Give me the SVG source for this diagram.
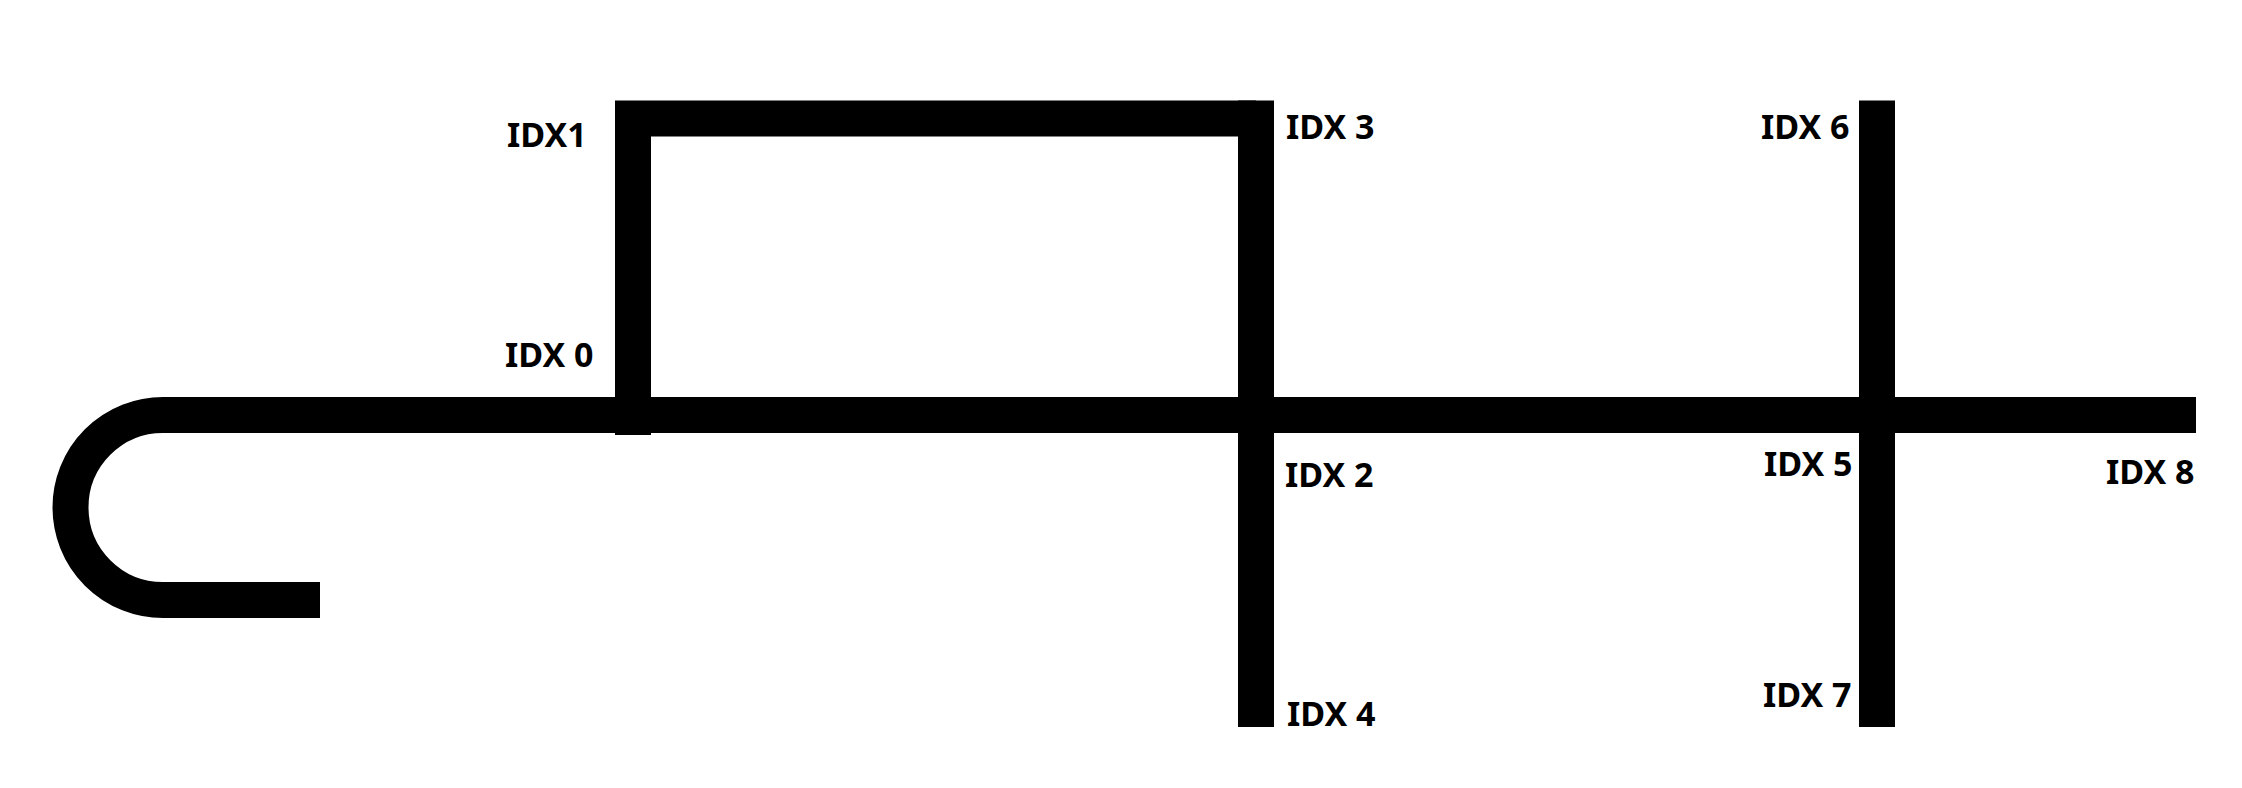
<svg xmlns="http://www.w3.org/2000/svg" width="2242" height="788" viewBox="0 0 2242 788">
<style>
.ln{fill:none;stroke:#000;stroke-width:36;stroke-linecap:butt;stroke-linejoin:miter}
.lb{font-family:"Noto Sans","Open Sans",sans-serif;font-weight:bold;font-size:34px;fill:#000}
</style>
<rect width="2242" height="788" fill="#fff"/>
<g id="connectors">
<path class="ln" d="M320 600 H163 A92.5 92.5 0 0 1 163 415 H2196"/>
<path class="ln" d="M633 435 V118.5 H1256"/>
<path class="ln" d="M1256 100.5 V727"/>
<path class="ln" d="M1877 100.5 V727"/>
</g>
<g id="idx0"><text class="lb" x="505" y="367">IDX 0</text></g>
<g id="idx1"><text class="lb" x="507" y="147">IDX1</text></g>
<g id="idx2"><text class="lb" x="1285" y="487">IDX 2</text></g>
<g id="idx3"><text class="lb" x="1286" y="139">IDX 3</text></g>
<g id="idx4"><text class="lb" x="1287" y="726">IDX 4</text></g>
<g id="idx5"><text class="lb" x="1764" y="476">IDX 5</text></g>
<g id="idx6"><text class="lb" x="1761" y="139">IDX 6</text></g>
<g id="idx7"><text class="lb" x="1763" y="707">IDX 7</text></g>
<g id="idx8"><text class="lb" x="2106" y="484">IDX 8</text></g>
</svg>
